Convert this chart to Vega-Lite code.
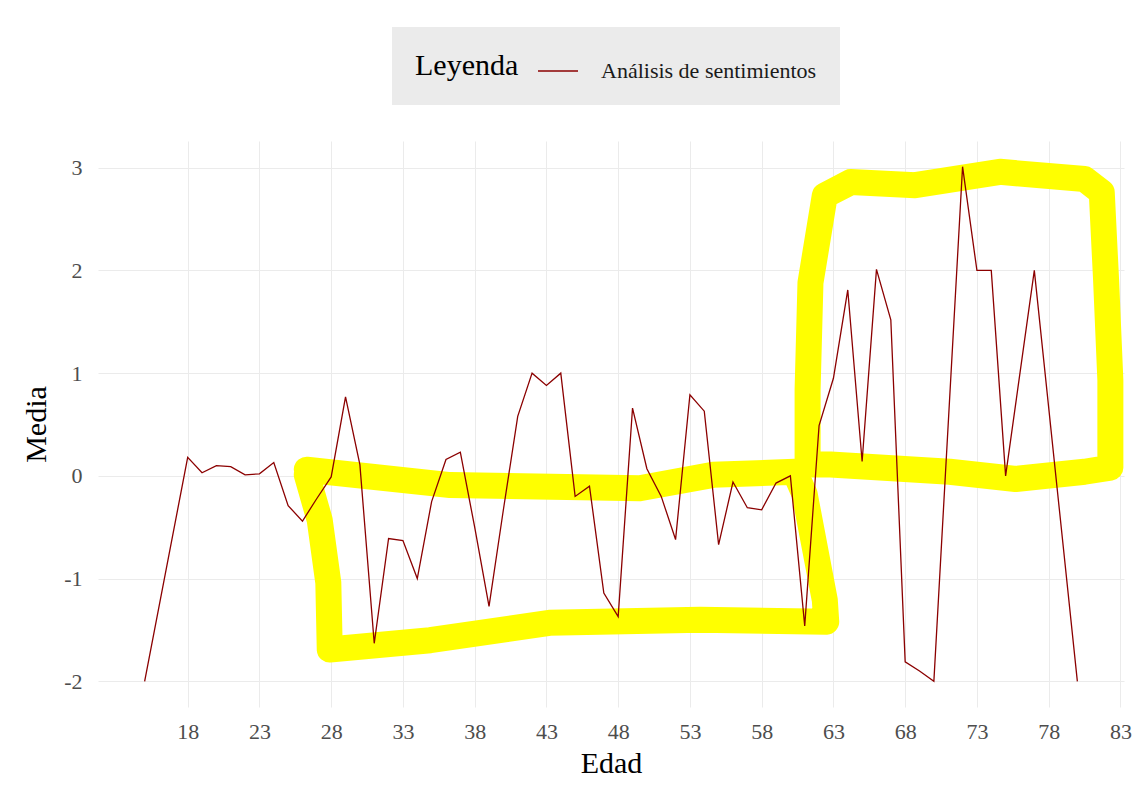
{
  "$schema": "https://vega.github.io/schema/vega-lite/v6.json",
  "width": 1026,
  "height": 566,
  "autosize": {"type": "none"},
  "padding": {"left": 98, "top": 141, "right": 18, "bottom": 98},
  "background": "white",
  "config": {
    "font": "Liberation Serif",
    "view": {"stroke": null},
    "axis": {
      "domain": false,
      "ticks": false,
      "grid": true,
      "gridColor": "#ebebeb",
      "gridWidth": 1,
      "labelFont": "Liberation Serif",
      "labelFontSize": 22,
      "labelColor": "#4d4d4d",
      "titleFont": "Liberation Serif",
      "titleFontSize": 30,
      "titleFontWeight": "normal",
      "titleColor": "#000000"
    },
    "legend": {
      "labelFont": "Liberation Serif",
      "titleFont": "Liberation Serif"
    }
  },
  "datasets": {
    "serie": [
      {"edad": 15, "media": -2.0},
      {"edad": 18, "media": 0.18},
      {"edad": 19, "media": 0.03},
      {"edad": 20, "media": 0.10},
      {"edad": 21, "media": 0.09},
      {"edad": 22, "media": 0.01},
      {"edad": 23, "media": 0.02},
      {"edad": 24, "media": 0.13},
      {"edad": 25, "media": -0.29},
      {"edad": 26, "media": -0.44},
      {"edad": 27, "media": -0.22},
      {"edad": 28, "media": -0.01},
      {"edad": 29, "media": 0.77},
      {"edad": 30, "media": 0.11},
      {"edad": 31, "media": -1.63},
      {"edad": 32, "media": -0.61},
      {"edad": 33, "media": -0.63},
      {"edad": 34, "media": -1.0},
      {"edad": 35, "media": -0.25},
      {"edad": 36, "media": 0.16},
      {"edad": 37, "media": 0.23},
      {"edad": 38, "media": -0.5},
      {"edad": 39, "media": -1.27},
      {"edad": 40, "media": -0.33},
      {"edad": 41, "media": 0.58},
      {"edad": 42, "media": 1.0},
      {"edad": 43, "media": 0.88},
      {"edad": 44, "media": 1.0},
      {"edad": 45, "media": -0.2},
      {"edad": 46, "media": -0.1},
      {"edad": 47, "media": -1.14},
      {"edad": 48, "media": -1.37},
      {"edad": 49, "media": 0.66},
      {"edad": 50, "media": 0.07},
      {"edad": 51, "media": -0.2},
      {"edad": 52, "media": -0.62},
      {"edad": 53, "media": 0.79},
      {"edad": 54, "media": 0.63},
      {"edad": 55, "media": -0.67},
      {"edad": 56, "media": -0.06},
      {"edad": 57, "media": -0.31},
      {"edad": 58, "media": -0.33},
      {"edad": 59, "media": -0.07},
      {"edad": 60, "media": 0.0},
      {"edad": 61, "media": -1.46},
      {"edad": 62, "media": 0.49},
      {"edad": 63, "media": 0.95},
      {"edad": 64, "media": 1.81},
      {"edad": 65, "media": 0.14},
      {"edad": 66, "media": 2.01},
      {"edad": 67, "media": 1.52},
      {"edad": 68, "media": -1.81},
      {"edad": 69, "media": -1.9},
      {"edad": 70, "media": -2.0},
      {"edad": 72, "media": 3.01},
      {"edad": 73, "media": 2.0},
      {"edad": 74, "media": 2.0},
      {"edad": 75, "media": 0.0},
      {"edad": 77, "media": 2.0},
      {"edad": 80, "media": -2.0}
    ],
    "marcas": [
      {"forma": "A", "orden": 1, "edad": 26.3, "media": 0.06},
      {"forma": "A", "orden": 2, "edad": 36.3, "media": -0.09},
      {"forma": "A", "orden": 3, "edad": 49.5, "media": -0.12},
      {"forma": "A", "orden": 4, "edad": 54.6, "media": 0.01},
      {"forma": "A", "orden": 5, "edad": 60.3, "media": 0.04},
      {"forma": "A", "orden": 6, "edad": 61.0, "media": -0.18},
      {"forma": "A", "orden": 7, "edad": 62.4, "media": -1.21},
      {"forma": "A", "orden": 8, "edad": 62.5, "media": -1.42},
      {"forma": "A", "orden": 9, "edad": 53.7, "media": -1.40},
      {"forma": "A", "orden": 10, "edad": 43.2, "media": -1.43},
      {"forma": "A", "orden": 11, "edad": 34.9, "media": -1.60},
      {"forma": "A", "orden": 12, "edad": 27.9, "media": -1.69},
      {"forma": "A", "orden": 13, "edad": 27.8, "media": -1.04},
      {"forma": "A", "orden": 14, "edad": 27.2, "media": -0.43},
      {"forma": "A", "orden": 15, "edad": 26.3, "media": 0.01},
      {"forma": "B", "orden": 1, "edad": 61.2, "media": 0.11},
      {"forma": "B", "orden": 2, "edad": 61.2, "media": 0.84},
      {"forma": "B", "orden": 3, "edad": 61.4, "media": 1.88},
      {"forma": "B", "orden": 4, "edad": 62.4, "media": 2.73},
      {"forma": "B", "orden": 5, "edad": 64.2, "media": 2.86},
      {"forma": "B", "orden": 6, "edad": 68.7, "media": 2.83},
      {"forma": "B", "orden": 7, "edad": 74.6, "media": 2.96},
      {"forma": "B", "orden": 8, "edad": 80.5, "media": 2.89},
      {"forma": "B", "orden": 9, "edad": 81.7, "media": 2.76},
      {"forma": "B", "orden": 10, "edad": 82.0, "media": 1.91},
      {"forma": "B", "orden": 11, "edad": 82.3, "media": 0.93},
      {"forma": "B", "orden": 12, "edad": 82.3, "media": 0.08},
      {"forma": "B", "orden": 13, "edad": 80.5, "media": 0.04},
      {"forma": "B", "orden": 14, "edad": 75.7, "media": -0.03},
      {"forma": "B", "orden": 15, "edad": 71.1, "media": 0.04},
      {"forma": "B", "orden": 16, "edad": 62.8, "media": 0.11},
      {"forma": "B", "orden": 17, "edad": 61.2, "media": 0.11}
    ]
  },
  "layer": [
    {
      "data": {"name": "marcas"},
      "mark": {"type": "line", "color": "#ffff00", "strokeWidth": 26, "strokeCap": "round", "strokeJoin": "round", "clip": false},
      "encoding": {
        "x": {"field": "edad", "type": "quantitative", "scale": {"domain": [11.75, 83.25], "nice": false, "zero": false},
              "axis": {"values": [18, 23, 28, 33, 38, 43, 48, 53, 58, 63, 68, 73, 78, 83], "labelExpr": "'' + datum.value", "title": "Edad", "labelPadding": 14, "titlePadding": 6}},
        "y": {"field": "media", "type": "quantitative", "scale": {"domain": [-2.25, 3.26], "nice": false, "zero": false},
              "axis": {"values": [-2, -1, 0, 1, 2, 3], "labelExpr": "'' + datum.value", "title": "Media", "labelPadding": 16, "titlePadding": 12}},
        "detail": {"field": "forma", "type": "nominal"},
        "order": {"field": "orden", "type": "quantitative"}
      }
    },
    {
      "data": {"name": "serie"},
      "transform": [{"calculate": "'Análisis de sentimientos'", "as": "serie"}],
      "mark": {"type": "line", "strokeWidth": 1.3},
      "encoding": {
        "x": {"field": "edad", "type": "quantitative"},
        "y": {"field": "media", "type": "quantitative"},
        "color": {
          "field": "serie", "type": "nominal",
          "scale": {"range": ["#8b0000"]},
          "legend": {
            "title": "Leyenda",
            "orient": "none",
            "legendX": 294,
            "legendY": -114,
            "direction": "horizontal",
            "titleOrient": "left",
            "titleFontSize": 30,
            "titleFontWeight": "normal",
            "titleColor": "#000000",
            "titlePadding": 18,
            "titleBaseline": "middle",
            "labelFontSize": 22,
            "labelColor": "#1a1a1a",
            "labelOffset": 22,
            "labelLimit": 400,
            "symbolType": "stroke",
            "symbolSize": 1600,
            "symbolStrokeWidth": 1.5,
            "fillColor": "#ebebeb",
            "padding": 23
          }
        }
      }
    }
  ]
}
